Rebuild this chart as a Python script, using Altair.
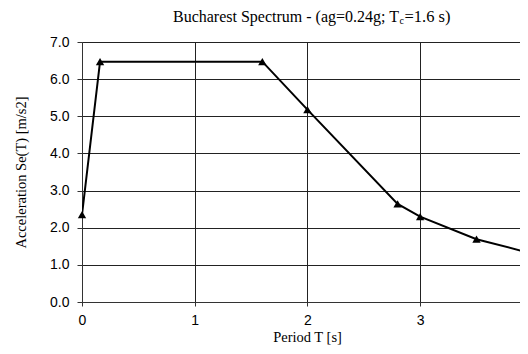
import altair as alt
import pandas as pd

# Data
period = [0.0, 0.16, 1.6, 2.0, 2.8, 3.0, 3.5, 4.0]
accel = [2.35, 6.47, 6.47, 5.18, 2.64, 2.30, 1.69, 1.30]
x_ticks = [0, 1, 2, 3]
y_ticks = [0, 1, 2, 3, 4, 5, 6, 7]
title_main = "Bucharest Spectrum - (ag=0.24g; T"
title_sub = "c"
title_end = "=1.6 s)"
x_title = "Period T [s]"
y_title = "Acceleration Se(T) [m/s2]"

df = pd.DataFrame({"T": period, "Se": accel})

xscale = alt.Scale(domain=[0, 3.886], nice=False, zero=False)
yscale = alt.Scale(domain=[0, 7], nice=False)

xaxis = alt.Axis(values=x_ticks, title=x_title, format="d", grid=True,
                 tickSize=4, labelPadding=7, titleX=225, titleY=39,
                 titleBaseline="alphabetic", labelFlush=False)
yaxis = alt.Axis(values=y_ticks, title=y_title, format=".1f", grid=True,
                 tickSize=5, labelPadding=8, titleX=-57,
                 titleBaseline="alphabetic", labelFlush=False)

base = alt.Chart(df).encode(
    x=alt.X("T:Q", scale=xscale, axis=xaxis),
    y=alt.Y("Se:Q", scale=yscale, axis=yaxis),
)
line = base.mark_line(color="black", strokeWidth=2, clip=True)
pts = base.mark_point(shape="triangle-up", filled=True, color="black",
                      size=70, opacity=1)

one = pd.DataFrame({"a": [0]})
t1 = alt.Chart(one).mark_text(text=title_main, align="right", baseline="alphabetic",
                              font="Liberation Serif", fontSize=16, color="black").encode(
    x=alt.value(317), y=alt.value(-20))
t2 = alt.Chart(one).mark_text(text=title_sub, align="left", baseline="alphabetic",
                              font="Liberation Serif", fontSize=10, color="black").encode(
    x=alt.value(317.5), y=alt.value(-18))
t3 = alt.Chart(one).mark_text(text=title_end, align="left", baseline="alphabetic",
                              font="Liberation Serif", fontSize=16.5, color="black").encode(
    x=alt.value(322.5), y=alt.value(-20))

chart = alt.layer(line, pts, t1, t2, t3).properties(
    width=438, height=260,
    autosize=alt.AutoSizeParams(type="none"),
    padding={"left": 74, "top": 34, "right": 0, "bottom": 44},
).configure_view(stroke=None).configure_axis(
    labelFont="Liberation Sans", labelFontSize=14, labelColor="black",
    titleFont="Liberation Serif", titleFontSize=14.5, titleFontWeight="normal",
    titleColor="black", tickColor="#333333", domainColor="#333333",
    gridColor="#222222", gridOpacity=1, gridWidth=1, domainWidth=1, tickWidth=1,
)

chart.save("out.html", embed_options={"renderer": "svg", "actions": False})
